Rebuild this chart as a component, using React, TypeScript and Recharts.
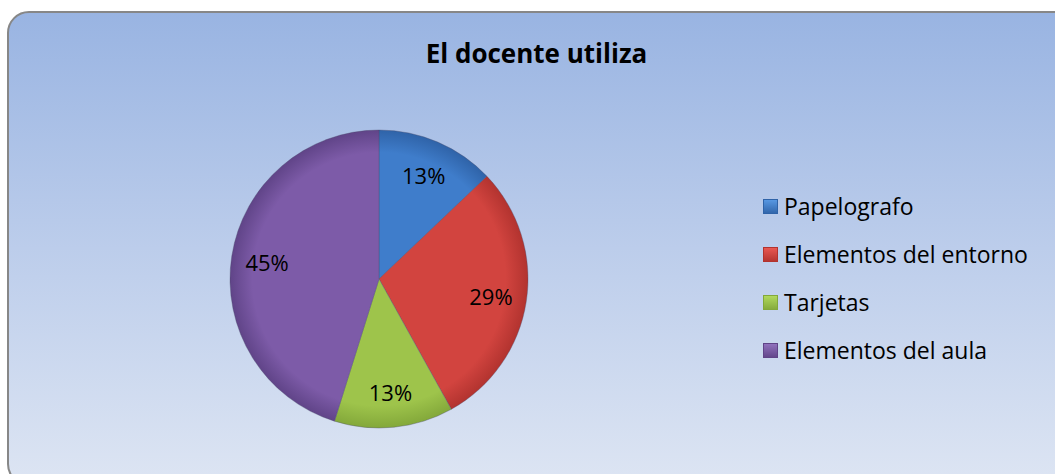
import React from 'react'
import { PieChart, Pie, Cell, Legend } from 'recharts'

const categories = ['Papelografo', 'Elementos del entorno', 'Tarjetas', 'Elementos del aula']
const counts = [4, 9, 4, 14]
const colors = ['#3f7dcb', '#d2443f', '#9ec44b', '#7d5ba8']
const lightColors = ['#5a9be6', '#ec5a54', '#b4dc5e', '#9474c0']
const darkColors = ['#2f63a8', '#b2332f', '#83a83a', '#604488']

const data = categories.map((name, i) => ({ name, value: counts[i] }))
const total = counts.reduce((a, b) => a + b, 0)

const FONT = '"Open Sans", "Noto Sans", sans-serif'
const RAD = Math.PI / 180

const renderLabel = (props: any) => {
    const { cx, cy, midAngle, outerRadius, value } = props
    const r = outerRadius * 0.76
    const x = cx + r * Math.cos(-midAngle * RAD)
    const y = cy + r * Math.sin(-midAngle * RAD)
    return (
        <text x={x} y={y} textAnchor="middle" dominantBaseline="central" fill="#000" fontSize={22} fontFamily={FONT}>
            {Math.round((value / total) * 100)}%
        </text>
    )
}

const renderLegend = () => (
    <div style={{ fontFamily: FONT, fontSize: 23, color: '#000' }}>
        {categories.map((c, i) => (
            <div key={c} style={{ display: 'flex', alignItems: 'center', height: 48 }}>
                <span
                    style={{
                        display: 'inline-block',
                        width: 15,
                        height: 15,
                        marginRight: 6,
                        background: `linear-gradient(180deg, ${lightColors[i]}, ${darkColors[i]})`,
                        boxShadow: `inset 0 0 0 1px ${darkColors[i]}`,
                    }}
                />
                <span>{c}</span>
            </div>
        ))}
    </div>
)

const App = () => {
    return (
        <div style={{ position: 'absolute', left: 0, top: 0, width: 1055, height: 474, overflow: 'hidden', background: '#fff' }}>
            <div
                style={{
                    position: 'absolute',
                    left: 7,
                    top: 11,
                    width: 1070,
                    height: 475,
                    boxSizing: 'border-box',
                    border: '2px solid #878787',
                    borderRadius: 22,
                    background: 'linear-gradient(180deg, #99b4e2 0%, #bccdeb 50%, #dde5f3 100%)',
                }}
            />
            <div
                style={{
                    position: 'absolute',
                    left: 0,
                    top: 35,
                    width: 1073,
                    textAlign: 'center',
                    fontFamily: FONT,
                    fontWeight: 700,
                    fontSize: 26,
                    color: '#000',
                }}
            >
                El docente utiliza
            </div>
            <div style={{ position: 'absolute', left: 0, top: 0 }}>
                <PieChart width={1055} height={474} margin={{ top: 0, right: 0, bottom: 0, left: 0 }}>
                    <defs>
                        {colors.map((c, i) => (
                            <radialGradient key={c} id={`g${i}`} cx="379" cy="279" r="149" gradientUnits="userSpaceOnUse">
                                <stop offset="0%" stopColor={colors[i]} />
                                <stop offset="85%" stopColor={colors[i]} />
                                <stop offset="100%" stopColor={darkColors[i]} />
                            </radialGradient>
                        ))}
                    </defs>
                    <Pie
                        data={data}
                        dataKey="value"
                        nameKey="name"
                        cx={379}
                        cy={279}
                        outerRadius={149}
                        startAngle={90}
                        endAngle={-270}
                        label={renderLabel}
                        labelLine={false}
                        stroke="#4a4a6a"
                        strokeOpacity={0.35}
                        strokeWidth={1}
                        isAnimationActive={false}
                    >
                        {data.map((d, i) => (
                            <Cell key={d.name} fill={`url(#g${i})`} />
                        ))}
                    </Pie>
                    <Legend
                        layout="vertical"
                        content={renderLegend}
                        wrapperStyle={{ left: 763, top: 182, width: 292 }}
                    />
                </PieChart>
            </div>
        </div>
    )
}

export default App
